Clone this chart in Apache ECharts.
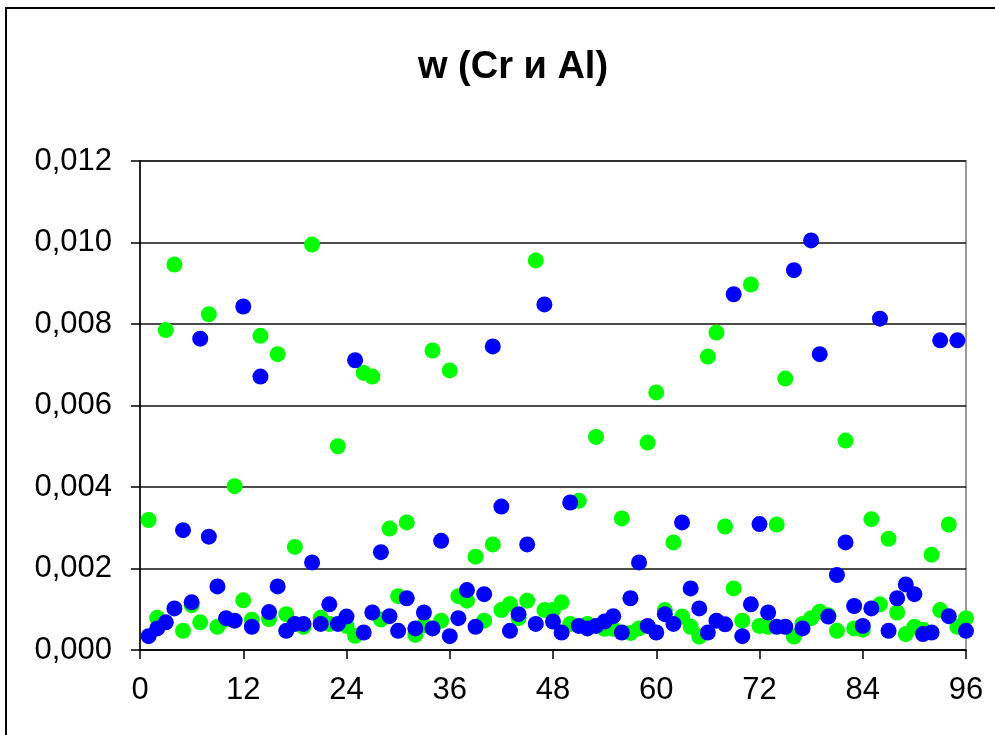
<!DOCTYPE html>
<html>
<head>
<meta charset="utf-8">
<title>w (Cr и Al)</title>
<script src="https://cdn.jsdelivr.net/npm/echarts@6/dist/echarts.min.js"></script>
<style>
    html, body { margin: 0; padding: 0; background: #fff; }
    #main { width: 995px; height: 735px; }
</style>
</head>
<body>
<div id="main"></div>
<script>
// значения (точка n = 1..96)
var greenVals = [
    0.00319, 0.00079, 0.00785, 0.00946, 0.00047, 0.0011, 0.00068, 0.00824, 0.00057, 0.00075,
    0.00402, 0.00122, 0.00074, 0.00771, 0.00076, 0.00726, 0.00088, 0.00253, 0.00057, 0.00995,
    0.00079, 0.00064, 0.005, 0.00059, 0.00035, 0.0068, 0.00671, 0.00075, 0.00298, 0.00132,
    0.00313, 0.00037, 0.00061, 0.00735, 0.00072, 0.00686, 0.00132, 0.00121, 0.00229, 0.00072,
    0.00259, 0.00098, 0.00113, 0.00078, 0.00121, 0.00956, 0.00098, 0.00098, 0.00117, 0.00064,
    0.00366, 0.00064, 0.00523, 0.00052, 0.00052, 0.00323, 0.00042, 0.00053, 0.00509, 0.00632,
    0.00098, 0.00264, 0.00082, 0.00057, 0.00033, 0.0072, 0.00779, 0.00303, 0.00151, 0.00072,
    0.00897, 0.00059, 0.00057, 0.00308, 0.00666, 0.00033, 0.00064, 0.00078, 0.00094, 0.00085,
    0.00047, 0.00514, 0.00053, 0.0005, 0.00321, 0.00112, 0.00273, 0.00092, 0.00039, 0.00057,
    0.0005, 0.00234, 0.00098, 0.00308, 0.00057, 0.00078
];
var blueVals = [
    0.00034, 0.00053, 0.00068, 0.00102, 0.00294, 0.00117, 0.00764, 0.00278, 0.00156, 0.00078,
    0.00072, 0.00843, 0.00057, 0.00671, 0.00093, 0.00156, 0.00047, 0.00064, 0.00064, 0.00215,
    0.00064, 0.00112, 0.00064, 0.00082, 0.00711, 0.00043, 0.00092, 0.0024, 0.00083, 0.00047,
    0.00127, 0.00053, 0.00092, 0.00053, 0.00268, 0.00034, 0.00078, 0.00147, 0.00057, 0.00137,
    0.00745, 0.00352, 0.00047, 0.00088, 0.00259, 0.00064, 0.00848, 0.0007, 0.00043, 0.00362,
    0.00059, 0.00053, 0.00059, 0.0007, 0.00083, 0.00043, 0.00127, 0.00215, 0.00059, 0.00043,
    0.00088, 0.00064, 0.00313, 0.00151, 0.00102, 0.00043, 0.00072, 0.00063, 0.00873, 0.00034,
    0.00112, 0.00309, 0.00092, 0.00057, 0.00057, 0.00932, 0.00053, 0.01005, 0.00726, 0.00082,
    0.00184, 0.00264, 0.00108, 0.00059, 0.00102, 0.00813, 0.00047, 0.00127, 0.00161, 0.00137,
    0.00039, 0.00043, 0.0076, 0.00083, 0.0076, 0.00047
];
var xTicks = [0, 12, 24, 36, 48, 60, 72, 84, 96];
var yTicks = [0, 0.002, 0.004, 0.006, 0.008, 0.010, 0.012];

var toPairs = function(vals) {
    return vals.map(function(v, i) { return [i + 1, v]; });
};

var chart = echarts.init(document.getElementById('main'));
var font = 'Liberation Sans, Arial, sans-serif';

chart.setOption({
    animation: false,
    backgroundColor: '#fff',
    title: {
        text: 'w (Cr и Al)',
        left: 508,
        textAlign: 'center',
        top: 44,
        textStyle: { fontFamily: font, fontSize: 38, fontWeight: 'bold', color: '#000' }
    },
    graphic: [{
        type: 'rect',
        shape: { x: 6, y: 8, width: 1010, height: 760 },
        style: { fill: 'none', stroke: '#000', lineWidth: 2 },
        silent: true
    }],
    grid: {
        left: 140, right: 29, top: 161, bottom: 85,
        show: true, borderColor: '#999', borderWidth: 2
    },
    xAxis: {
        type: 'value',
        min: xTicks[0],
        max: xTicks[xTicks.length - 1],
        interval: 12,
        axisLine: { lineStyle: { color: '#000', width: 1.5 } },
        axisTick: { show: true, inside: false, length: 9, lineStyle: { color: '#000', width: 1.5 } },
        splitLine: { show: false },
        axisLabel: { margin: 25, fontFamily: font, fontSize: 31, color: '#000' }
    },
    yAxis: {
        type: 'value',
        min: yTicks[0],
        max: yTicks[yTicks.length - 1],
        interval: 0.002,
        axisLine: { show: true, lineStyle: { color: '#000', width: 1.5 } },
        axisTick: { show: true, inside: false, length: 9, lineStyle: { color: '#000', width: 1.5 } },
        splitLine: { show: true, lineStyle: { color: '#111', width: 1.5 } },
        axisLabel: {
            margin: 28, fontFamily: font, fontSize: 31, color: '#000',
            formatter: function(v) { return v.toFixed(3).replace('.', ','); }
        }
    },
    series: [{
        name: 'Cr',
        type: 'scatter',
        symbol: 'circle',
        symbolSize: 16,
        itemStyle: { color: '#00ff00', opacity: 1 },
        data: toPairs(greenVals)
    }, {
        name: 'Al',
        type: 'scatter',
        symbol: 'circle',
        symbolSize: 16,
        itemStyle: { color: '#0000ff', opacity: 1 },
        data: toPairs(blueVals)
    }]
});
</script>
</body>
</html>
